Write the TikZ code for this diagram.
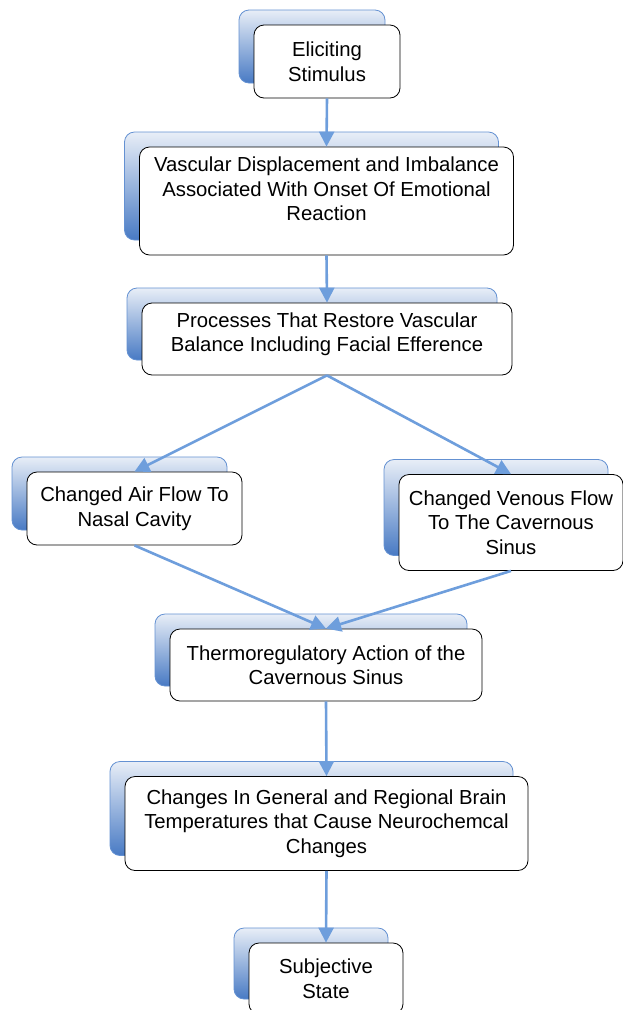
\documentclass[tikz,border=0pt]{standalone}
\usepackage{fontspec}
\setmainfont{Liberation Sans}
\usetikzlibrary{arrows.meta,shadows}

\definecolor{flowblue}{RGB}{110,158,220}
\definecolor{backedge}{RGB}{100,145,210}
\definecolor{backtop}{RGB}{232,238,247}
\definecolor{backmid}{RGB}{196,212,235}
\definecolor{backbottom}{RGB}{72,122,196}

\begin{document}
\begin{tikzpicture}[
    x=1pt, y=-1pt,
    stepbox/.style={
        rectangle,
        rounded corners=10pt,
        draw=black,
        fill=white,
        line width=0.8pt,
        inner sep=0pt,
        align=center,
        font=\fontsize{20.3}{24.5}\selectfont,
        general shadow={
            shadow xshift=-15pt,
            shadow yshift=15pt,
            draw=backedge,
            top color=backtop,
            middle color=backmid,
            bottom color=backbottom,
            line width=0.8pt
        }
    },
    flow/.style={
        draw=flowblue,
        line width=2.6pt,
        -{Triangle[length=15pt,width=15pt]}
    }
]
\useasboundingbox (0,0) rectangle (623,1010);

\node[stepbox, minimum width=146pt, minimum height=73pt] (stimulus) at (327,61.5) {Eliciting\\Stimulus};
\node[stepbox, minimum width=374pt, minimum height=108pt] (imbalance) at (326.5,201) {Vascular Displacement and Imbalance\\Associated With Onset Of Emotional\\Reaction\\\mbox{}};
\node[stepbox, minimum width=370pt, minimum height=72pt] (restore) at (327,339) {Processes That Restore Vascular\\Balance Including Facial Efference\\[-10.5pt]\mbox{}};
\node[stepbox, minimum width=215pt, minimum height=73pt] (airflow) at (134.5,508.5) {Changed Air Flow To\\Nasal Cavity};
\node[stepbox, minimum width=224pt, minimum height=96pt] (venous) at (511,522.5) {Changed Venous Flow\\To The Cavernous\\Sinus};
\node[stepbox, minimum width=312pt, minimum height=72pt] (thermo) at (326,665) {Thermoregulatory Action of the\\Cavernous Sinus};
\node[stepbox, minimum width=403pt, minimum height=94pt] (braintemp) at (326.5,823.5) {Changes In General and Regional Brain\\Temperatures that Cause Neurochemcal\\Changes};
\node[stepbox, minimum width=154pt, minimum height=71pt] (subjective) at (326,978.5) {Subjective\\State};

\draw[flow] (stimulus.south) -- (imbalance.north);
\draw[flow] (imbalance.south) -- (restore.north);
\draw[flow] (restore.south) -- (airflow.north);
\draw[flow] (restore.south) -- (venous.north);
\draw[flow] (airflow.south) -- (thermo.north);
\draw[flow] (venous.south) -- (thermo.north);
\draw[flow] (thermo.south) -- (braintemp.north);
\draw[flow] (braintemp.south) -- (subjective.north);

\end{tikzpicture}
\end{document}
